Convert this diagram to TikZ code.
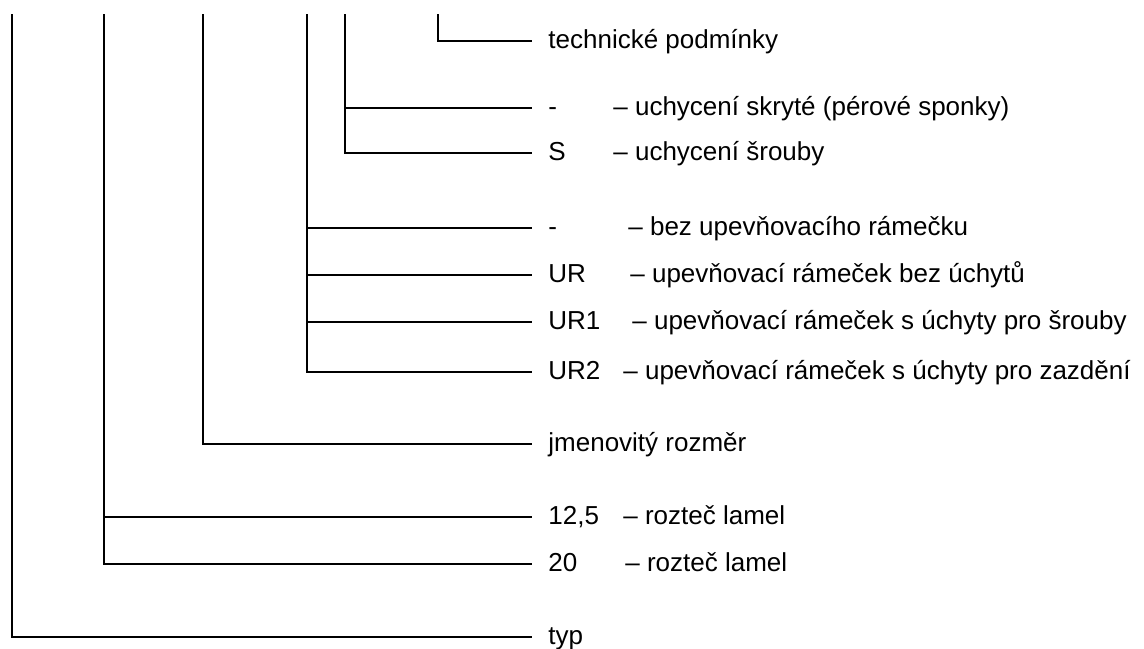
\documentclass[tikz,border=0pt]{standalone}
\usepackage{fontspec}
\setmainfont{Liberation Sans}
\begin{document}
\begin{tikzpicture}[x=0.5pt,y=-0.5pt,
  lbl/.style={anchor=west, inner sep=0pt, text height=0.72em, text depth=0pt,
    font=\fontsize{13}{15}\selectfont},
  leader/.style={line width=1pt, shorten >=8pt}]
\useasboundingbox (0,0) rectangle (1144,648);
\coordinate (typcol) at (12,14);
\coordinate (roztcol) at (104,14);
\coordinate (rozmcol) at (203,14);
\coordinate (urcol) at (307,14);
\coordinate (uchcol) at (345,14);
\coordinate (tpcol) at (438,14);
\node[lbl] (tp) at (548,41) {technické podmínky};
\node[lbl] (skr) at (548,108) {-};
\node[lbl] (skrD) at (613,108) {– uchycení skryté (pérové sponky)};
\node[lbl] (s) at (548,153) {S};
\node[lbl] (sD) at (613,153) {– uchycení šrouby};
\node[lbl] (bez) at (548,228) {-};
\node[lbl] (bezD) at (628,228) {– bez upevňovacího rámečku};
\node[lbl] (ur) at (548,275) {UR};
\node[lbl] (urD) at (630,275) {– upevňovací rámeček bez úchytů};
\node[lbl] (ur1) at (548,322) {UR1};
\node[lbl] (ur1D) at (632,322) {– upevňovací rámeček s úchyty pro šrouby};
\node[lbl] (ur2) at (548,372) {UR2};
\node[lbl] (ur2D) at (623,372) {– upevňovací rámeček s úchyty pro zazdění};
\node[lbl] (jr) at (548,444) {jmenovitý rozměr};
\node[lbl] (r12) at (548,517) {12,5};
\node[lbl] (r12D) at (623,517) {– rozteč lamel};
\node[lbl] (r20) at (548,564) {20};
\node[lbl] (r20D) at (625,564) {– rozteč lamel};
\node[lbl] (typ) at (548,637) {typ};
% leaders
\draw[leader] (tpcol) |- (tp);
\draw[leader] (uchcol |- skr) -- (skr);
\draw[leader] (uchcol) |- (s);
\draw[leader] (urcol |- bez) -- (bez);
\draw[leader] (urcol |- ur) -- (ur);
\draw[leader] (urcol |- ur1) -- (ur1);
\draw[leader] (urcol) |- (ur2);
\draw[leader] (rozmcol) |- (jr);
\draw[leader] (roztcol |- r12) -- (r12);
\draw[leader] (roztcol) |- (r20);
\draw[leader] (typcol) |- (typ);
\end{tikzpicture}
\end{document}
